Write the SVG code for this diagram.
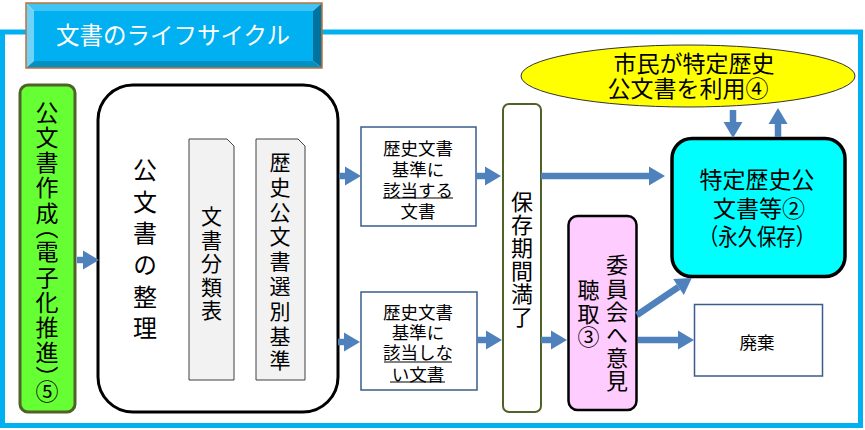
<svg xmlns="http://www.w3.org/2000/svg" width="865" height="430" viewBox="0 0 865 430">
<defs>
<style>
text{font-family:"Noto Sans CJK JP","Noto Sans",sans-serif;fill:#000;text-anchor:middle}
.v{writing-mode:vertical-rl;text-anchor:start}
.c{dominant-baseline:central}
.t{font-size:17.5px}
.arr{stroke:#4F81BD;stroke-width:6.5;fill:none;marker-end:url(#ah)}
.ul{stroke:#000;stroke-width:1}
.box{fill:#fff;stroke:#385D8A;stroke-width:1.5}
.doc{fill:#F2F2F2;stroke:#404040;stroke-width:1}
</style>
<marker id="ah" markerUnits="userSpaceOnUse" markerWidth="17" markerHeight="19" refX="0" refY="9.5" orient="auto" overflow="visible">
<path d="M0,0 L16,9.5 L0,19 Z" fill="#4F81BD"/>
</marker>
</defs>
<rect width="865" height="430" fill="#fff"/>
<rect x="2.5" y="32" width="858" height="393.5" fill="none" stroke="#00B0F0" stroke-width="5"/>

<g id="title">
<polygon points="26,3 322,3 313,11 34,11" fill="#40C4F4"/>
<polygon points="26,3 34,11 34,61 26,68" fill="#70D2F6"/>
<polygon points="322,3 322,68 313,61 313,11" fill="#00749E"/>
<polygon points="26,68 322,68 313,61 34,61" fill="#0090C4"/>
<rect x="34" y="11" width="279" height="50" fill="#00B0F0"/>
<rect x="26" y="3" width="296" height="65" fill="none" stroke="#C0703A" stroke-width="1.5"/>
<text x="173" y="44" font-size="23.5" style="fill:#fff">文書のライフサイクル</text>
</g>

<g id="create">
<rect x="20" y="85" width="55" height="327" rx="8" fill="#66FF33" stroke="#4F6228" stroke-width="3"/>
<text class="v" x="47" y="100.5" font-size="23" letter-spacing="2.2" style="font-feature-settings:'vpal'">公文書作成（電子化推進）⑤</text>
</g>

<g id="organize">
<rect x="98" y="85" width="240" height="327" rx="35" fill="#fff" stroke="#000" stroke-width="3"/>
<text class="v" x="145" y="158" font-size="24" letter-spacing="7.6">公文書の整理</text>
</g>

<g id="classify">
<path class="doc" d="M189,139 H227 L234,146 V380 H189 Z"/>
<text class="v" x="211.5" y="206" font-size="21" letter-spacing="2.4">文書分類表</text>
</g>

<g id="criteria">
<path class="doc" d="M256,139 H298 L305,146 V380 H256 Z"/>
<text class="v" x="280" y="151.5" font-size="21" letter-spacing="3.8">歴史公文書選別基準</text>
</g>

<g id="match">
<rect class="box" x="361" y="127" width="115" height="99"/>
<text class="t c"><tspan x="418" y="147">歴史文書</tspan><tspan x="418" y="167.5">基準に</tspan><tspan x="418" y="188.5">該当する</tspan><tspan x="418" y="210">文書</tspan></text>
<line class="ul" x1="383" y1="198" x2="453" y2="198"/>
</g>

<g id="nomatch">
<rect class="box" x="361" y="292" width="116" height="98"/>
<text class="t c"><tspan x="418" y="310.5">歴史文書</tspan><tspan x="418" y="330.5">基準に</tspan><tspan x="418" y="351">該当しな</tspan><tspan x="418" y="372.5">い文書</tspan></text>
<line class="ul" x1="384" y1="362" x2="452" y2="362"/>
<line class="ul" x1="390" y1="382" x2="445" y2="382"/>
</g>

<g id="expire">
<rect x="503" y="104" width="38" height="308" rx="6" fill="#fff" stroke="#4F6228" stroke-width="2"/>
<text class="v" x="522" y="190.5" font-size="22" letter-spacing="1">保存期間満了</text>
</g>

<g id="citizen">
<ellipse cx="688" cy="76" rx="167" ry="31" fill="#FFFF00" stroke="#333" stroke-width="1"/>
<text font-size="23"><tspan x="694" y="71.5">市民が特定歴史</tspan><tspan x="688" y="96.5">公文書を利用④</tspan></text>
</g>

<g id="permanent">
<rect x="672" y="138.5" width="173" height="138" rx="20" fill="#00FFFF" stroke="#000" stroke-width="3.5"/>
<text font-size="23"><tspan x="757" y="188">特定歴史公</tspan><tspan x="759" y="216.5">文書等②</tspan></text>
<text font-size="23" x="757" y="245" textLength="116" lengthAdjust="spacingAndGlyphs">（永久保存）</text>
</g>

<g id="hearing">
<rect x="568.5" y="216" width="68" height="194" rx="9" fill="#FFCCFF" stroke="#000" stroke-width="2.5"/>
<text class="v" x="617" y="254" font-size="22" letter-spacing="1.2">委員会へ意見</text>
<text class="v" x="588.5" y="279" font-size="22" letter-spacing="1.5">聴取③</text>
</g>

<g id="dispose">
<rect class="box" x="694.5" y="304.5" width="128" height="71.5"/>
<text class="t c" x="757" y="341.5">廃棄</text>
</g>

<g id="connectors">
<line class="arr" x1="77" y1="260" x2="83" y2="260"/>
<line class="arr" x1="339" y1="176" x2="345" y2="176"/>
<line class="arr" x1="338" y1="342" x2="344" y2="342"/>
<line class="arr" x1="476" y1="176" x2="485" y2="176"/>
<line class="arr" x1="477" y1="340" x2="486" y2="340"/>
<line class="arr" x1="541" y1="176" x2="649" y2="176"/>
<line class="arr" x1="541" y1="340" x2="551" y2="340"/>
<line class="arr" x1="637" y1="315" x2="678.5" y2="287"/>
<line class="arr" x1="638" y1="340" x2="678" y2="340"/>
<line class="arr" x1="733" y1="110" x2="733" y2="122"/>
<line class="arr" x1="778" y1="137" x2="778" y2="124"/>
</g>
</svg>
